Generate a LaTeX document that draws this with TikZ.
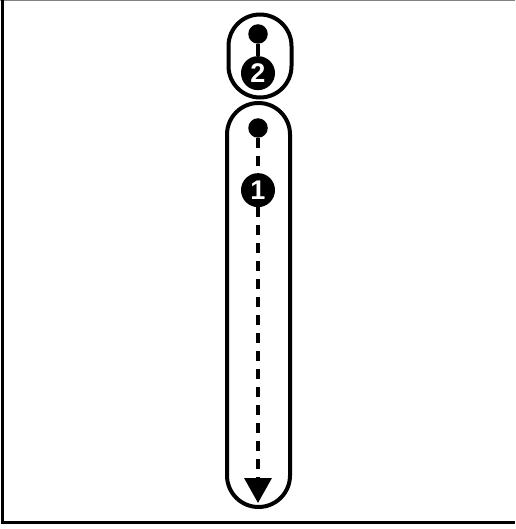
\documentclass[tikz,border=0pt]{standalone}
\usepackage{fontspec}
\setmainfont{Liberation Sans}
\usetikzlibrary{positioning,arrows.meta}

\begin{document}
\begin{tikzpicture}[
    x=1pt, y=-1pt,
    capsule/.style={draw, rectangle, rounded corners=31.5pt, line width=4pt, minimum width=63pt, inner sep=0pt},
    dot/.style={fill, circle, minimum size=19.5pt, inner sep=0pt},
    badge/.style={fill, circle, minimum size=34pt, inner sep=0pt, text=white, font=\bfseries\fontsize{27}{27}\selectfont},
    link/.style={line width=3.5pt},
    dashlink/.style={line width=3.5pt, dash pattern=on 10pt off 8pt}
]
    \useasboundingbox (0,0) rectangle (515,529);

    % frame
    \draw [gray, line width=1pt] (0,0.5) -- (515,0.5);
    \draw [line width=3pt] (2,0) -- (2,522) -- (515,522);

    % step 2
    \node [capsule, minimum height=83pt] (cap2) at (260,56) {};
    \node [dot] (dot2) at (258,34) {};
    \node [badge, below=12pt of dot2] (num2) {2};

    % step 1
    \node [capsule, minimum height=404pt] (cap1) at (258.5,305) {};
    \node [dot] (dot1) at (258,128) {};
    \node [badge, below=35pt of dot1] (num1) {1};
    \coordinate (tip) at (258,503);

    \draw [link] (dot2) -- (num2);
    \draw [dashlink] (dot1) -- (num1);
    \draw [dashlink, -{Triangle[width=27pt,length=25pt]}] (num1) -- (tip);

\end{tikzpicture}
\end{document}
